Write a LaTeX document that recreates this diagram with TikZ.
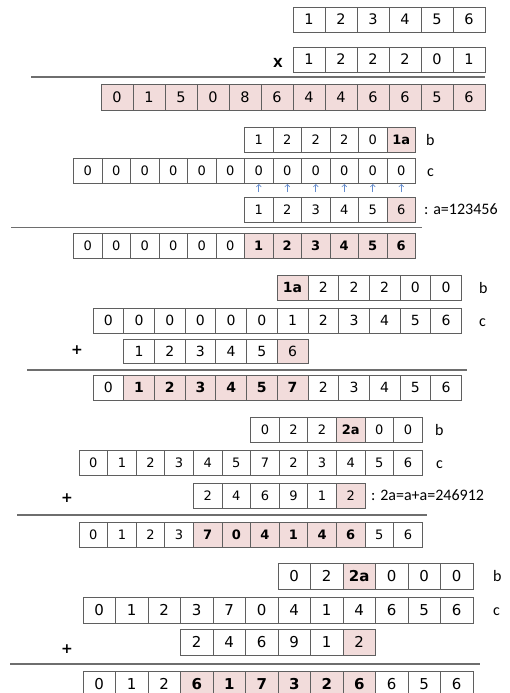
\documentclass[tikz,border=0pt]{standalone}
\usepackage{fontspec}
\usetikzlibrary{arrows.meta}
\newfontfamily\cellfont{DejaVu Sans}
\newfontfamily\labfont{Carlito}
\definecolor{pinkc}{RGB}{242,220,219}
\definecolor{bordc}{RGB}{95,95,95}
\definecolor{sepc}{RGB}{110,110,110}
\definecolor{arrc}{RGB}{100,140,205}
\tikzset{
  cellbox/.style={draw=bordc, line width=0.8pt, inner sep=0pt, outer sep=0pt, anchor=north west, fill=white},
  cn/.style={},
  ch/.style={fill=pinkc, execute at begin node=\bfseries},
  cp/.style={fill=pinkc},
  sepline/.style={draw=sepc, line width=1.3pt},
  lab/.style={font=\labfont\fontsize{16}{16}\selectfont, inner sep=0pt, anchor=west, text height=0.75em, text depth=0.2em},
  opsign/.style={font=\cellfont\bfseries\fontsize{14}{14}\selectfont, inner sep=0pt},
  uparr/.style={draw=arrc, line width=0.6pt, -{Straight Barb[length=2.5pt,width=5pt]}, shorten >=1pt, shorten <=5pt}
}
\newcommand\cellrow[7]{%
  \foreach \t/\s [count=\i] in {#7} {
    \node[cellbox, \s, minimum width=#4pt, minimum height=#5pt, font=\cellfont\fontsize{#6}{#6}\selectfont] (#1\i) at ({#2+(\i-1)*#4}, #3) {\t};
  }}
\begin{document}
\begin{tikzpicture}[x=1pt, y=-1pt]
\useasboundingbox (0,0) rectangle (510,693);
\fill[white] (0,0) rectangle (510,693);

% ---------- section 1
\cellrow{sAtop}{293}{7}{32}{25}{14.5}{1/cn,2/cn,3/cn,4/cn,5/cn,6/cn}
\cellrow{sAx}{293}{47}{32}{25}{14.5}{1/cn,2/cn,2/cn,2/cn,0/cn,1/cn}
\node[opsign, font=\cellfont\bfseries\fontsize{12.5}{12.5}\selectfont] (xsign) at (278,63) {X};
\coordinate (l1a) at (31,77); \coordinate (l1b) at (485,77);
\draw[sepline] (l1a) -- (l1b);
\cellrow{sAres}{101}{84}{32}{26}{14.5}{0/cp,1/cp,5/cp,0/cp,8/cp,6/cp,4/cp,4/cp,6/cp,6/cp,5/cp,6/cp}

% ---------- section 2
\cellrow{sBb}{244.5}{127}{28.5}{25.5}{13}{1/cn,2/cn,2/cn,2/cn,0/cn,1a/ch}
\cellrow{sBc}{73.5}{158}{28.5}{25}{13}{0/cn,0/cn,0/cn,0/cn,0/cn,0/cn,0/cn,0/cn,0/cn,0/cn,0/cn,0/cn}
\cellrow{sBa}{244.5}{197}{28.5}{25}{13}{1/cn,2/cn,3/cn,4/cn,5/cn,6/cp}
\foreach \k [evaluate=\k as \m using int(\k+6)] in {1,...,6} {
  \draw[uparr] (sBa\k.north) -- (sBc\m.south);
}
\node[lab] (sBlb) at (426,143) {b};
\node[lab] (sBlc) at (427,173.5) {c};
\node[lab] (sBla) at (424,211.5) {: a=123456};
\coordinate (l2a) at (11,227.5); \coordinate (l2b) at (422,227.5);
\draw[sepline] (l2a) -- (l2b);
\cellrow{sBres}{73.5}{233}{28.5}{25}{13}{0/cn,0/cn,0/cn,0/cn,0/cn,0/cn,1/ch,2/ch,3/ch,4/ch,5/ch,6/ch}

% ---------- section 3
\cellrow{sCb}{277.2}{275}{30.7}{25}{14}{1a/ch,2/cn,2/cn,2/cn,0/cn,0/cn}
\cellrow{sCc}{93}{308}{30.7}{25}{14}{0/cn,0/cn,0/cn,0/cn,0/cn,0/cn,1/cn,2/cn,3/cn,4/cn,5/cn,6/cn}
\cellrow{sCa}{123.7}{339}{30.7}{24.5}{14}{1/cn,2/cn,3/cn,4/cn,5/cn,6/cp}
\node[opsign] (sCplus) at (77,350) {+};
\node[lab] (sClb) at (479,290.5) {b};
\node[lab] (sClc) at (479,323.5) {c};
\coordinate (l3a) at (27,370); \coordinate (l3b) at (467,370);
\draw[sepline] (l3a) -- (l3b);
\cellrow{sCres}{93}{375}{30.7}{25}{14}{0/cn,1/ch,2/ch,3/ch,4/ch,5/ch,7/ch,2/cn,3/cn,4/cn,5/cn,6/cn}

% ---------- section 4
\cellrow{sDb}{250.6}{417}{28.6}{25}{13}{0/cn,2/cn,2/cn,2a/ch,0/cn,0/cn}
\cellrow{sDc}{79}{450}{28.6}{25}{13}{0/cn,1/cn,2/cn,3/cn,4/cn,5/cn,7/cn,2/cn,3/cn,4/cn,5/cn,6/cn}
\cellrow{sDa}{193.4}{483}{28.6}{25}{13}{2/cn,4/cn,6/cn,9/cn,1/cn,2/cp}
\node[opsign] (sDplus) at (67,498) {+};
\node[lab] (sDlb) at (435,432.5) {b};
\node[lab] (sDlc) at (436,465.5) {c};
\node[lab] (sDla) at (371,497.5) {: 2a=a+a=246912};
\coordinate (l4a) at (17,515); \coordinate (l4b) at (427,515);
\draw[sepline] (l4a) -- (l4b);
\cellrow{sDres}{79}{522}{28.6}{25}{13}{0/cn,1/cn,2/cn,3/cn,7/ch,0/ch,4/ch,1/ch,4/ch,6/ch,5/cn,6/cn}

% ---------- section 5
\cellrow{sEb}{278}{563}{32.5}{26}{15}{0/cn,2/cn,2a/ch,0/cn,0/cn,0/cn}
\cellrow{sEc}{83}{597}{32.5}{26}{15}{0/cn,1/cn,2/cn,3/cn,7/cn,0/cn,4/cn,1/cn,4/cn,6/cn,5/cn,6/cn}
\cellrow{sEa}{180.5}{629}{32.5}{26}{15}{2/cn,4/cn,6/cn,9/cn,1/cn,2/cp}
\node[opsign] (sEplus) at (67,649) {+};
\node[lab] (sElb) at (493,579) {b};
\node[lab] (sElc) at (493,613) {c};
\coordinate (l5a) at (10,664); \coordinate (l5b) at (480,664);
\draw[sepline] (l5a) -- (l5b);
\cellrow{sEres}{83}{671}{32.5}{26}{15}{0/cn,1/cn,2/cn,6/ch,1/ch,7/ch,3/ch,2/ch,6/ch,6/cn,5/cn,6/cn}
\end{tikzpicture}
\end{document}
